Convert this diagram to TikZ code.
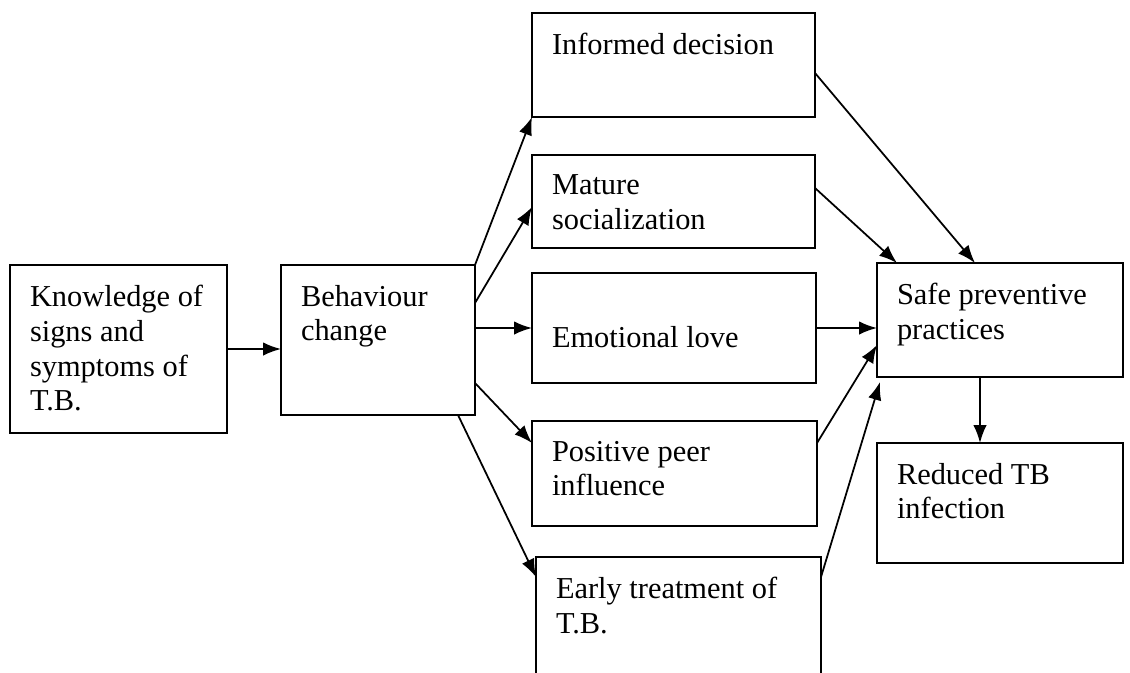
\documentclass[tikz,border=0pt]{standalone}
\usepackage{fontspec}
\setmainfont{Liberation Serif}
\usepackage{tikz}
\usetikzlibrary{positioning,arrows.meta,calc}

\newcommand{\boxfont}{\fontsize{17.3}{19.8}\selectfont}
\newcommand{\boxtext}[3]{\parbox[t][\dimexpr#2cm-0.8cm\relax][t]{\dimexpr#1cm-0.8cm\relax}{\raggedright #3}}

\begin{document}
\begin{tikzpicture}[
      >={Latex[length=3.6mm,width=2.7mm]},
      auto
    ]

    \tikzstyle{box} = [rectangle, anchor=north west, inner sep=0.4cm, outer sep=0pt, draw=black, line width=1.2pt, font=\boxfont]

    \tikzstyle{arrow} = [line width=1pt,->]

    \useasboundingbox (0,0) rectangle (22.6,-13.44);
    \clip (0,0) rectangle (22.6,-13.44);

    \node [box] (know) at (0.2,-5.3) {
    	\boxtext{4.34}{3.36}{Knowledge of\\signs and\\symptoms of\\T.B.}
        };
    \node [box] (behav) at (5.62,-5.3) {
    	\boxtext{3.88}{3.0}{Behaviour\\change}
        };
    \node [box] (inform) at (10.64,-0.26) {
    	\boxtext{5.66}{2.08}{Informed decision}
        };
    \node [box] (mature) at (10.64,-3.1) {
    	\boxtext{5.66}{1.86}{Mature\\socialization}
        };
    \node [box] (emot) at (10.64,-5.46) {
    	\boxtext{5.68}{2.2}{\vspace*{0.66cm}Emotional love}
        };
    \node [box] (peer) at (10.64,-8.42) {
    	\boxtext{5.7}{2.1}{Positive peer\\influence}
        };
    \node [box] (early) at (10.72,-11.14) {
    	\boxtext{5.7}{2.8}{Early treatment of\\T.B.}
        };
    \node [box] (safe) at (17.54,-5.26) {
    	\boxtext{4.92}{2.28}{Safe preventive\\practices}
        };
    \node [box] (reduced) at (17.54,-8.86) {
    	\boxtext{4.92}{2.4}{Reduced TB\\infection}
        };

    \draw [arrow] (know.east) -- (know.east -| behav.west);
    \draw [arrow] (behav.north east) -- (inform.south west);
    \draw [arrow] ([yshift=-0.76cm]behav.north east) -- ([yshift=-1.04cm]mature.north west);
    \draw [arrow] (emot.west -| behav.east) -- (emot.west);
    \draw [arrow] ([yshift=0.64cm]behav.south east) -- ([yshift=-0.44cm]peer.north west);
    \draw [arrow] ([xshift=-0.34cm]behav.south east) -- ([yshift=-0.4cm]early.north west);
    \draw [arrow] ([yshift=-1.2cm]inform.north east) -- ([xshift=1.96cm]safe.north west);
    \draw [arrow] ([yshift=-0.66cm]mature.north east) -- ([xshift=0.4cm]safe.north west);
    \draw [arrow] (emot.east) -- (emot.east -| safe.west);
    \draw [arrow] ([yshift=-0.44cm]peer.north east) -- ([yshift=0.64cm]safe.south west);
    \draw [arrow] ([yshift=-0.4cm]early.north east) -- ([xshift=0.06cm,yshift=-0.1cm]safe.south west);
    \draw [arrow] ([xshift=-0.4cm]safe.south) -- ([xshift=-0.4cm]reduced.north);

\end{tikzpicture}
\end{document}
